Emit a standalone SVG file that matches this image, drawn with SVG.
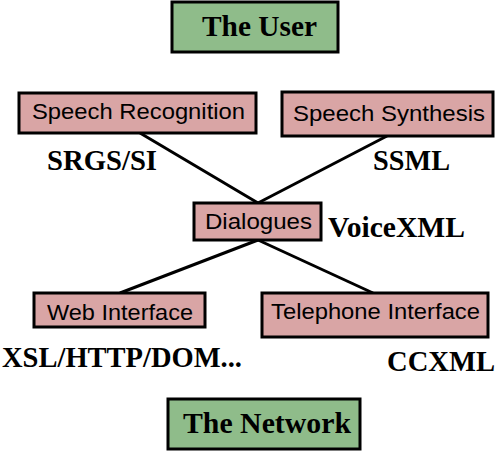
<svg xmlns="http://www.w3.org/2000/svg" width="500" height="456" viewBox="0 0 500 456">
<style>
.g{fill:#8fbc8a;stroke:#000;stroke-width:3}
.p{fill:#d9a5a5;stroke:#000;stroke-width:3}
.s{font-family:"Liberation Sans",Arial,sans-serif;font-size:22.5px;fill:#000}
.b{font-family:"Liberation Serif","Times New Roman",serif;font-weight:bold;font-size:29px;fill:#000}
.c{stroke:#000;stroke-width:3;fill:none}
</style>
<rect width="500" height="456" fill="#fff"/>
<g id="connectors">
<line class="c" x1="140" y1="133" x2="258" y2="203"/>
<line class="c" x1="387" y1="136" x2="258" y2="203"/>
<line class="c" x1="258" y1="240" x2="120" y2="293"/>
<line class="c" x1="258" y1="240" x2="373" y2="293"/>
</g>
<g id="user"><rect class="g" x="172" y="2" width="166" height="50"/><text class="b" x="202" y="36" textLength="115" lengthAdjust="spacingAndGlyphs">The User</text></g>
<g id="speech-recognition"><rect class="p" x="19" y="93" width="237" height="40"/><text class="s" x="32" y="119" textLength="213" lengthAdjust="spacingAndGlyphs">Speech Recognition</text></g>
<g id="speech-synthesis"><rect class="p" x="282" y="92" width="211" height="44"/><text class="s" x="293" y="121" textLength="192" lengthAdjust="spacingAndGlyphs">Speech Synthesis</text></g>
<g id="dialogues"><rect class="p" x="194" y="203" width="127" height="37"/><text class="s" x="205" y="229" textLength="107" lengthAdjust="spacingAndGlyphs">Dialogues</text></g>
<g id="web-interface"><rect class="p" x="34" y="293" width="171" height="34"/><text class="s" x="47" y="320" textLength="146" lengthAdjust="spacingAndGlyphs">Web Interface</text></g>
<g id="telephone-interface"><rect class="p" x="262" y="293" width="226" height="44"/><text class="s" x="271" y="319" textLength="209" lengthAdjust="spacingAndGlyphs">Telephone Interface</text></g>
<g id="network"><rect class="g" x="168" y="399" width="192" height="50"/><text class="b" x="183" y="433" textLength="168" lengthAdjust="spacingAndGlyphs">The Network</text></g>
<g id="labels">
<text class="b" x="47" y="170" textLength="110" lengthAdjust="spacingAndGlyphs">SRGS/SI</text>
<text class="b" x="373" y="170" textLength="77" lengthAdjust="spacingAndGlyphs">SSML</text>
<text class="b" x="328" y="237" textLength="137" lengthAdjust="spacingAndGlyphs">VoiceXML</text>
<text class="b" x="2" y="367" textLength="240" lengthAdjust="spacingAndGlyphs">XSL/HTTP/DOM...</text>
<text class="b" x="387" y="371" textLength="108" lengthAdjust="spacingAndGlyphs">CCXML</text>
</g>
</svg>
